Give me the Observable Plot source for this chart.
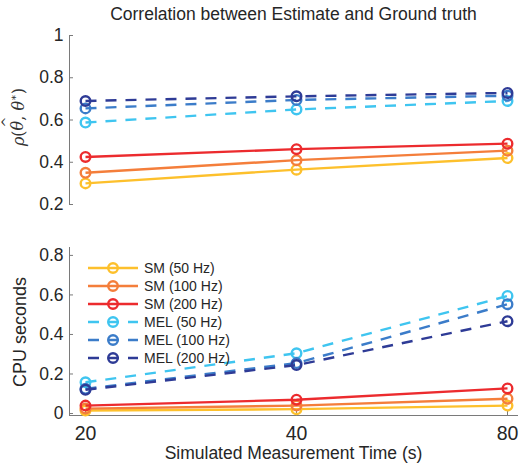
<!DOCTYPE html>
<html><head><meta charset="utf-8">
<script src="https://cdn.jsdelivr.net/npm/d3@7"></script>
<script src="https://cdn.jsdelivr.net/npm/@observablehq/plot@0.6"></script>
<style>
body{margin:0;background:#fff;font-family:"Liberation Sans",Arial,sans-serif;color:#262626}
#wrap{position:relative;width:519px;height:465px;overflow:hidden;background:#fff}
.abs{position:absolute}
#title{left:0;width:519px;top:4px;text-align:center;font-size:17.5px;padding-left:68px;box-sizing:border-box;white-space:nowrap}
#xlabel{left:0;width:519px;top:443px;text-align:center;font-size:17.5px;padding-left:68px;box-sizing:border-box;white-space:nowrap}
#ylab1{left:18px;top:117px;transform:translate(-50%,-50%) rotate(-90deg);font-family:"DejaVu Serif",serif;font-size:16px;white-space:nowrap;color:#333}
#ylab2{left:20px;top:332px;transform:translate(-50%,-50%) rotate(-90deg);font-size:18px;white-space:nowrap}
.hat{position:relative;display:inline-block}
.hat::before{content:"^";position:absolute;left:3px;top:-9px;font-style:normal;font-size:13px}
</style></head><body><div id="wrap">
<div id="title" class="abs">Correlation between Estimate and Ground truth</div>
<div id="xlabel" class="abs">Simulated Measurement Time (s)</div>
<div id="ylab1" class="abs"><i>ρ</i>(<i class="hat">θ</i>, <i>θ</i><sup style="font-size:10px">∗</sup>)</div>
<div id="ylab2" class="abs">CPU seconds</div>
</div>
<script>
const times = ["20", "40", "80"];
const names = ["SM (50 Hz)", "SM (100 Hz)", "SM (200 Hz)", "MEL (50 Hz)", "MEL (100 Hz)", "MEL (200 Hz)"];
const colors = ["#FDC02C", "#F47E3B", "#EC2B2E", "#3FC5F0", "#3B7CC9", "#2E3B96"];
const dashed = [false, false, false, true, true, true];

// Correlation panel
const corrSM50 = [0.300, 0.365, 0.420];
const corrSM100 = [0.350, 0.410, 0.455];
const corrSM200 = [0.425, 0.462, 0.488];
const corrMEL50 = [0.588, 0.650, 0.690];
const corrMEL100 = [0.655, 0.695, 0.715];
const corrMEL200 = [0.690, 0.712, 0.728];

// CPU panel
const cpuSM50 = [0.015, 0.022, 0.040];
const cpuSM100 = [0.025, 0.040, 0.075];
const cpuSM200 = [0.040, 0.070, 0.127];
const cpuMEL50 = [0.158, 0.305, 0.595];
const cpuMEL100 = [0.125, 0.255, 0.553];
const cpuMEL200 = [0.120, 0.245, 0.467];

const yTicksTop = [0.2, 0.4, 0.6, 0.8, 1];
const yTicksBottom = [0, 0.2, 0.4, 0.6, 0.8];

const corrValues = [corrSM50, corrSM100, corrSM200, corrMEL50, corrMEL100, corrMEL200];
const cpuValues = [cpuSM50, cpuSM100, cpuSM200, cpuMEL50, cpuMEL100, cpuMEL200];

const LW = 2.4, R = 4.8, DASH = "11,9";

function seriesMarks(vals) {
  const marks = [];
  names.forEach((n, i) => {
    const d = times.map((t, j) => ({t, v: vals[i][j]}));
    marks.push(Plot.line(d, {x: "t", y: "v", stroke: colors[i], strokeWidth: LW,
      strokeDasharray: dashed[i] ? DASH : null, strokeLinecap: "butt"}));
    marks.push(Plot.dot(d, {x: "t", y: "v", r: R, stroke: colors[i], strokeWidth: LW, fill: "none"}));
  });
  return marks;
}

const axisColor = "#7a7a7a";
const fontStyle = {fontFamily: '"Liberation Sans", Arial, sans-serif', color: "#262626", background: "transparent", overflow: "visible"};

const topChart = Plot.plot({
  width: 519, height: 190, marginTop: 13, marginBottom: 8, marginLeft: 69, marginRight: 2,
  style: fontStyle,
  x: {type: "point", domain: times, range: [84, 507], padding: 0, axis: null},
  y: {domain: [0.2, 1], range: [182, 13], axis: null},
  marks: [
    Plot.frame({anchor: "left", stroke: axisColor}),
    Plot.axisY(yTicksTop, {anchor: "left", label: null, tickSize: -4, tickPadding: 10, stroke: axisColor, fill: "#262626", fontSize: 17.5, tickFormat: d => String(d)}),
    ...seriesMarks(corrValues)
  ]
});
topChart.style.position = "absolute"; topChart.style.left = "0px"; topChart.style.top = "22px";

const bottomChart = Plot.plot({
  width: 519, height: 230, marginTop: 12, marginBottom: 50, marginLeft: 69, marginRight: 2,
  style: fontStyle,
  x: {type: "point", domain: times, range: [84, 507], padding: 0, axis: null},
  y: {domain: [-0.01, 0.84], range: [180, 12], axis: null},
  marks: [
    Plot.frame({anchor: "left", stroke: axisColor}),
    Plot.frame({anchor: "bottom", stroke: axisColor}),
    Plot.axisY(yTicksBottom, {anchor: "left", label: null, tickSize: -4, tickPadding: 10, stroke: axisColor, fill: "#262626", fontSize: 17.5, tickFormat: d => String(d)}),
    Plot.axisX(times, {anchor: "bottom", label: null, tickSize: -4, tickPadding: 15, stroke: axisColor, fill: "#262626", fontSize: 19.5}),
    ...seriesMarks(cpuValues)
  ]
});
bottomChart.style.position = "absolute"; bottomChart.style.left = "0px"; bottomChart.style.top = "235px";

const wrap = document.getElementById("wrap");
wrap.appendChild(topChart);
wrap.appendChild(bottomChart);

// legend
const leg = d3.create("svg").attr("width", 200).attr("height", 120)
  .style("position", "absolute").style("left", "80px").style("top", "255px")
  .style("font-family", '"Liberation Sans", Arial, sans-serif');
names.forEach((n, i) => {
  const y = 13 + i * 18;
  const g = leg.append("g");
  g.append("line").attr("x1", 8).attr("x2", 58).attr("y1", y).attr("y2", y)
    .attr("stroke", colors[i]).attr("stroke-width", LW)
    .attr("stroke-dasharray", dashed[i] ? DASH : null);
  g.append("circle").attr("cx", 33).attr("cy", y).attr("r", R)
    .attr("fill", "none").attr("stroke", colors[i]).attr("stroke-width", LW);
  g.append("text").attr("x", 64).attr("y", y).attr("dy", "0.36em")
    .attr("font-size", 14).attr("fill", "#262626").text(n);
});
wrap.appendChild(leg.node());
</script>
</body></html>
